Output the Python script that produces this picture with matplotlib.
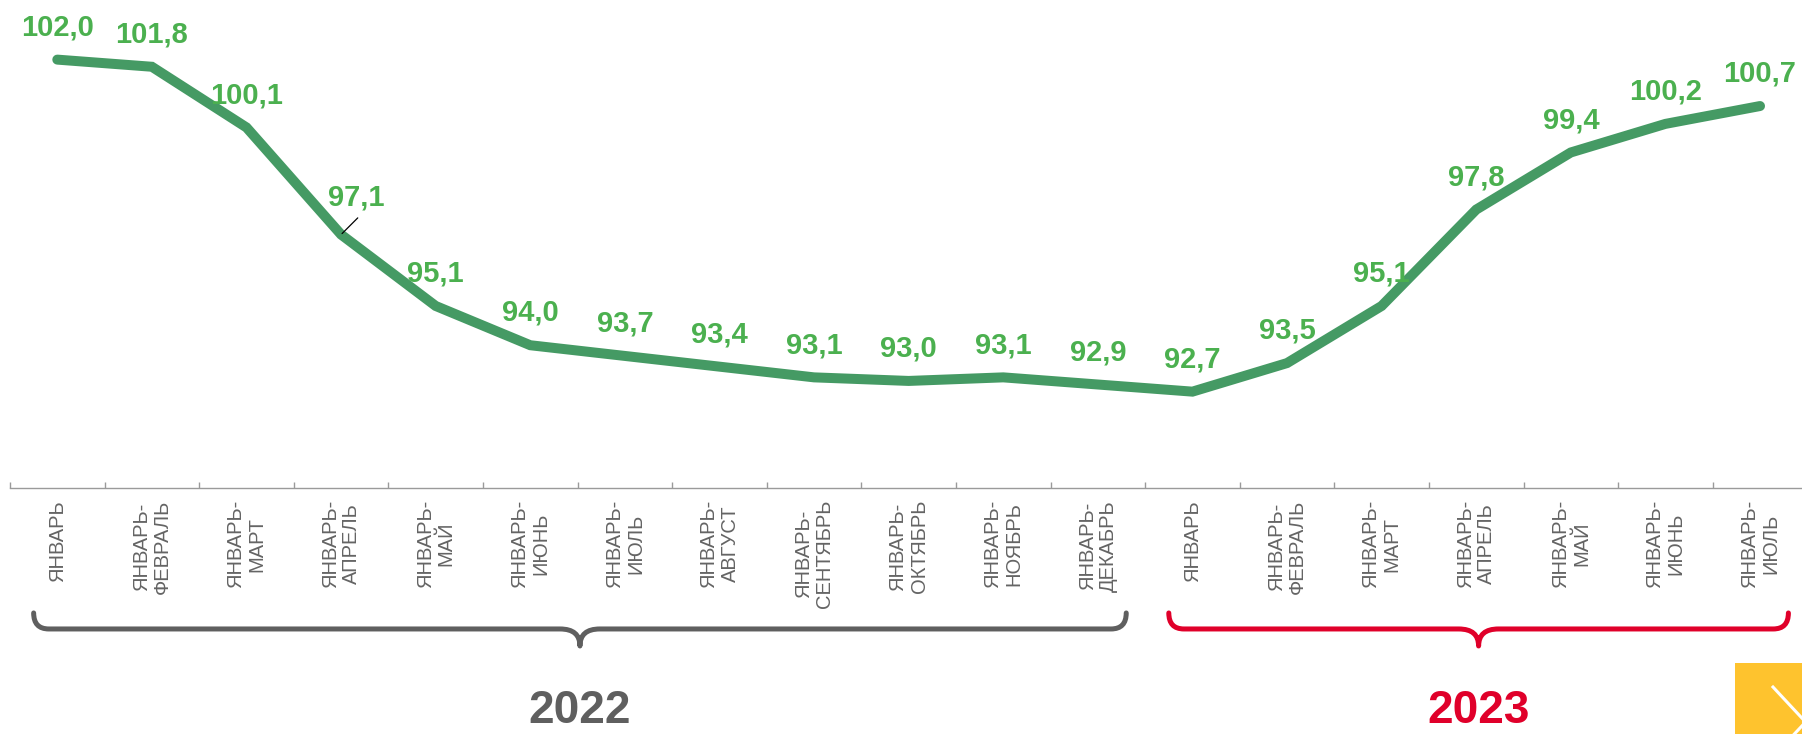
import matplotlib.pyplot as plt
from matplotlib.path import Path
from matplotlib.patches import PathPatch, Rectangle
from matplotlib.lines import Line2D
import matplotlib.transforms as mtransforms

plt.rcParams['font.family'] = ['Liberation Sans', 'DejaVu Sans']

# data
months = ['ФЕВРАЛЬ', 'МАРТ', 'АПРЕЛЬ', 'МАЙ', 'ИЮНЬ', 'ИЮЛЬ', 'АВГУСТ',
          'СЕНТЯБРЬ', 'ОКТЯБРЬ', 'НОЯБРЬ', 'ДЕКАБРЬ']
values_2022 = [102.0, 101.8, 100.1, 97.1, 95.1, 94.0, 93.7, 93.4, 93.1, 93.0, 93.1, 92.9]
values_2023 = [92.7, 93.5, 95.1, 97.8, 99.4, 100.2, 100.7]
years = ['2022', '2023']

labels_2022 = ['ЯНВАРЬ'] + ['ЯНВАРЬ-\n' + m for m in months[:len(values_2022) - 1]]
labels_2023 = ['ЯНВАРЬ'] + ['ЯНВАРЬ-\n' + m for m in months[:len(values_2023) - 1]]
labels = labels_2022 + labels_2023
values = values_2022 + values_2023
x = list(range(len(values)))

LINE = '#459a64'
LABEL = '#4bb04f'
GRAY = '#5f5f5f'
RED = '#e0002a'

fig = plt.figure(figsize=(18.02, 7.34), dpi=100)
ax = fig.add_axes([0.00555, 0.3351, 0.9974, 0.6649])

ax.plot(x, values, color=LINE, lw=7.2, solid_capstyle='round', solid_joinstyle='miter')
ax.set_xlim(-0.5, len(values) - 0.5)
ax.set_ylim(90, 103.67)

for i, v in enumerate(values):
    txt = f"{v:.1f}".replace('.', ',')
    if i == 3:
        off = (11, 21)
        ax.annotate('', xy=(i, v), xytext=(12, 12), textcoords='offset points',
                    arrowprops=dict(arrowstyle='-', color='black', lw=0.9,
                                    shrinkA=0, shrinkB=1))
    else:
        off = (0, 17.5)
    ax.annotate(txt, xy=(i, v), xytext=off, textcoords='offset points',
                ha='center', va='baseline', fontsize=21, fontweight='bold',
                color=LABEL)

for s in ['top', 'left', 'right']:
    ax.spines[s].set_visible(False)
ax.spines['bottom'].set_color('#9a9a9a')
ax.spines['bottom'].set_linewidth(1.0)
ax.set_yticks([])

ax.set_xticks(x)
ax.set_xticklabels(labels, rotation=90, fontsize=14.5, color='#646464',
                   linespacing=1.15, multialignment='center')
ax.set_xticks([i - 0.5 for i in range(len(values) + 1)], minor=True)
ax.tick_params(axis='x', which='major', length=0, pad=8.6)
ax.tick_params(axis='x', which='minor', direction='in', length=4.5,
               color='#9a9a9a', width=1.0)

# braces under the two years
trans = mtransforms.blended_transform_factory(ax.transData, fig.transFigure)
y_top, y_line, y_cusp = 0.1649, 0.1431, 0.1199


def brace(x0, x1, color):
    xc = (x0 + x1) / 2
    r, r2 = 0.16, 0.21
    verts = [(x0, y_top), (x0, y_line), (x0 + r, y_line),
             (xc - r2, y_line),
             (xc, y_line), (xc, y_cusp),
             (xc, y_line), (xc + r2, y_line),
             (x1 - r, y_line),
             (x1, y_line), (x1, y_top)]
    codes = [Path.MOVETO, Path.CURVE3, Path.CURVE3, Path.LINETO,
             Path.CURVE3, Path.CURVE3, Path.CURVE3, Path.CURVE3,
             Path.LINETO, Path.CURVE3, Path.CURVE3]
    p = PathPatch(Path(verts, codes), transform=trans, fill=False,
                  edgecolor=color, lw=3.6, capstyle='round', joinstyle='round',
                  clip_on=False)
    fig.add_artist(p)
    return xc


n22 = len(values_2022)
xc1 = brace(-0.25, n22 - 1 + 0.3, GRAY)
xc2 = brace(n22 - 0.25, len(values) - 1 + 0.3, RED)

for xc, yr, c in zip([xc1, xc2], years, [GRAY, RED]):
    fig.text(xc, 0.001, yr, transform=trans, ha='center', va='bottom',
             fontsize=33, fontweight='bold', color=c)

# yellow "next" button in the corner
fig.add_artist(Rectangle((0.9628, 0), 0.0372, 0.0967, transform=fig.transFigure,
                         facecolor='#fec32e', edgecolor='none'))
fig.add_artist(Line2D([0.9839, 1.002, 0.9839], [0.064, 0.0163, -0.031],
                      transform=fig.transFigure, color='white', lw=2.2))

plt.savefig('out.png', dpi=100)
